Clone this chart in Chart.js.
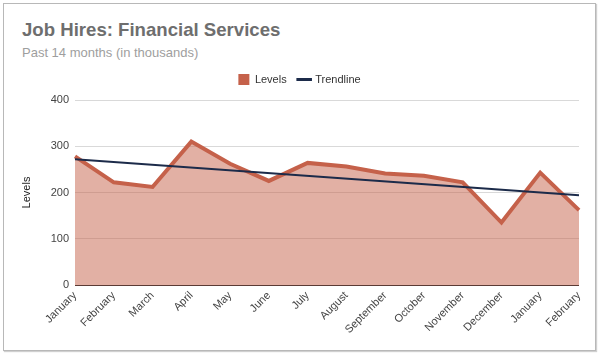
<!DOCTYPE html>
<html>
<head>
<meta charset="utf-8">
<script src="https://cdn.jsdelivr.net/npm/chart.js@4.4.1/dist/chart.umd.min.js"></script>
<style>
  html, body { margin: 0; padding: 0; background: #fff; }
  #wrap { position: relative; width: 600px; height: 356px; overflow: hidden; }
  #frame { position: absolute; left: 3px; top: 3px; width: 593px; height: 348px;
           border: 1px solid #b8b8b8; box-shadow: 1px 1px 1px #d0d0d0; box-sizing: border-box; }
  #title { position: absolute; left: 22px; top: 19px; font: bold 18.6px "Liberation Sans", Arial, sans-serif; color: #6e6e6e; white-space: nowrap; }
  #subtitle { position: absolute; left: 22px; top: 45px; font: 13px "Liberation Sans", Arial, sans-serif; color: #9e9e9e; white-space: nowrap; }
  canvas { position: absolute; left: 0; top: 0; }
</style>
</head>
<body>
<div id="wrap">
  <div id="frame"></div>
  <div id="title">Job Hires: Financial Services</div>
  <div id="subtitle">Past 14 months (in thousands)</div>
  <canvas id="c" width="600" height="356"></canvas>
</div>
<script>
const categories = ["January","February","March","April","May","June","July","August","September","October","November","December","January","February"];
const levels = [278, 222, 212, 310, 262, 225, 264, 256, 241, 236, 222, 135, 243, 162];
const trendStart = 272;
const trendEnd = 194;
const yTicks = [0, 100, 200, 300, 400];

const trend = categories.map((_, i) => i === 0 ? trendStart : (i === categories.length - 1 ? trendEnd : null));

const FONT = "'Liberation Sans', Arial, sans-serif";
const lineColor = '#c5614a';
const fillColor = 'rgba(197,97,74,0.5)';
const trendColor = '#1c2b4a';

const legendSpace = {
  id: 'legendSpace',
  beforeLayout(chart) {
    const lg = chart.legend;
    if (lg && !lg._patched) {
      const f = lg.fit.bind(lg);
      lg.fit = function () { f(); this.height += 5; };
      lg._patched = true;
    }
  }
};

new Chart(document.getElementById('c'), {
  type: 'line',
  data: {
    labels: categories,
    datasets: [
      { label: 'Levels', data: levels, borderColor: lineColor, backgroundColor: fillColor,
        fill: 'origin', borderWidth: 4, pointRadius: 0, tension: 0, order: 2,
        borderJoinStyle: 'miter' },
      { label: 'Trendline', data: trend, borderColor: trendColor, backgroundColor: trendColor,
        fill: false, borderWidth: 2, pointRadius: 0, spanGaps: true, tension: 0, order: 1 }
    ]
  },
  plugins: [legendSpace],
  options: {
    responsive: false,
    animation: false,
    layout: { padding: { left: 20, right: 21, top: 62, bottom: 7 } },
    plugins: {
      legend: {
        position: 'top',
        labels: {
          font: { family: FONT, size: 11 },
          color: '#333',
          boxWidth: 12, boxHeight: 12,
          padding: 12,
          generateLabels: (chart) => chart.data.datasets.map((ds, i) => ({
            text: ds.label,
            fillStyle: i === 0 ? lineColor : trendColor,
            strokeStyle: i === 0 ? lineColor : trendColor,
            lineWidth: i === 0 ? 0 : 3,
            pointStyle: i === 0 ? 'rect' : 'line',
            datasetIndex: i,
            fontColor: '#333'
          })),
          usePointStyle: true
        }
      },
      tooltip: { enabled: false }
    },
    scales: {
      x: {
        grid: { display: false, drawTicks: false },
        border: { display: false },
        ticks: { font: { family: FONT, size: 11 }, color: '#444', maxRotation: 45, minRotation: 45, autoSkip: false, padding: 4 },
        afterFit: (s) => { s.height = 64; }
      },
      y: {
        min: 0, max: 400,
        afterBuildTicks: (s) => { s.ticks = yTicks.map(v => ({ value: v })); },
        grid: { color: (ctx) => ctx.tick.value === 0 ? '#5a3a34' : '#d9d9d9', lineWidth: 1, drawTicks: false },
        border: { display: false },
        ticks: { font: { family: FONT, size: 11 }, color: '#444', padding: 6 },
        title: { display: true, text: 'Levels', font: { family: FONT, size: 11 }, color: '#222', padding: { top: 0, bottom: 8 } },
        afterFit: (s) => { s.width = 55; }
      }
    }
  }
});
</script>
</body>
</html>
